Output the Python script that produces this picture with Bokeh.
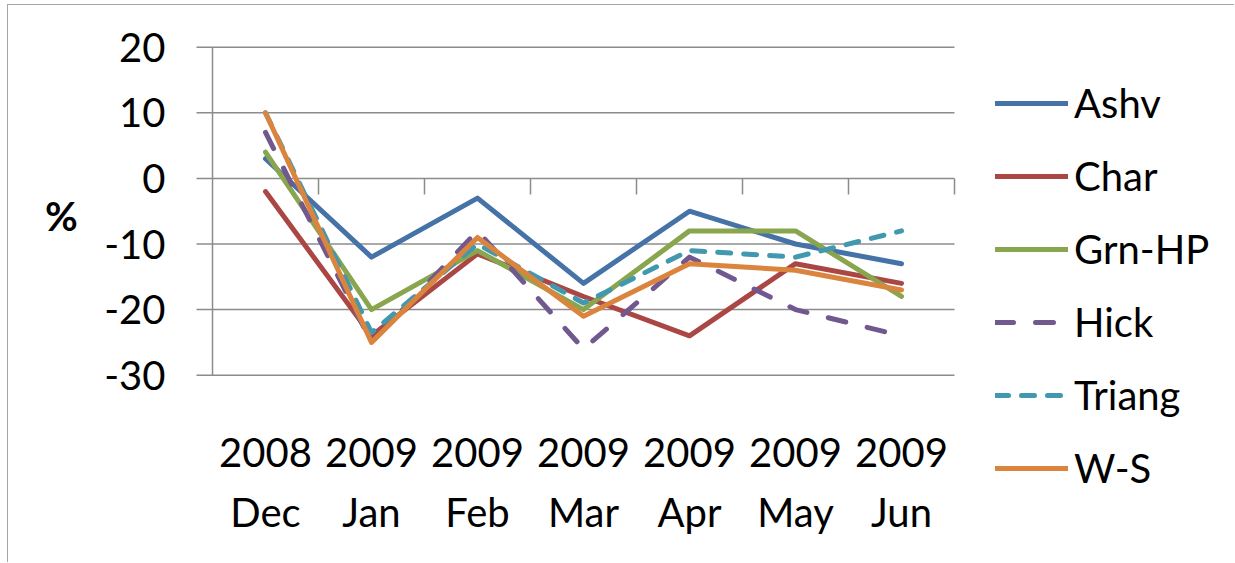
from bokeh.plotting import figure
from bokeh.models import Range1d
from bokeh.core.properties import value
from bokeh.embed import file_html
from bokeh.resources import INLINE

years = ["2008", "2009", "2009", "2009", "2009", "2009", "2009"]
months = ["Dec", "Jan", "Feb", "Mar", "Apr", "May", "Jun"]
y_ticks = [-30, -20, -10, 0, 10, 20]
y_tick_labels = ["-30", "-20", "-10", "0", "10", "20"]
y_title = "%"

ashv = [3, -12, -3, -16, -5, -10, -13]
char = [-2, -24, -11.5, -18, -24, -13, -16]
grn_hp = [4, -20, -11, -20, -8, -8, -18]
hick = [7, -25, -8, -26, -12, -20, -24]
triang = [10, -23.5, -10, -19, -11, -12, -8]
w_s = [10, -25, -9, -21, -13, -14, -17]

series_names = ["Ashv", "Char", "Grn-HP", "Hick", "Triang", "W-S"]
series_vals = [ashv, char, grn_hp, hick, triang, w_s]
colors = ["#4572A7", "#AA4643", "#89A54E", "#71588F", "#4198AF", "#DB843D"]
dashes = ["solid", "solid", "solid", "18 22", "13 13", "solid"]

FONT = "Lato"
GRID = "#8c8c8c"

# ---- layout in pixels (canvas coordinates) ----
W, H = 1227, 558
PLOT_LEFT = 204.0        # x of the value axis
PLOT_TOP = 41.7          # y of the top gridline
PX_X = 106.0             # pixels per category
PX_Y = 6.56              # pixels per percentage point

n = len(months)
x_start = -0.5 - PLOT_LEFT / PX_X
x_end = x_start + W / PX_X
y_end = y_ticks[-1] + PLOT_TOP / PX_Y
y_start = y_end - H / PX_Y

p = figure(width=W, height=H, output_backend="svg", toolbar_location=None,
           x_range=Range1d(x_start, x_end), y_range=Range1d(y_start, y_end),
           min_border=0, x_axis_type=None, y_axis_type=None)
p.outline_line_color = None
p.background_fill_color = "white"
p.border_fill_color = "white"
p.grid.visible = False
p.styles = {"margin-left": "7px", "margin-top": "4px",
            "border-left": "1px solid #a6a6a6", "border-top": "1px solid #a6a6a6"}

x_cat_lo, x_cat_hi = -0.5, n - 0.5
tick_out_x = 16 / PX_X
tick_out_y = 16 / PX_Y
k = len(y_ticks)

# gridlines (extending left as outer tick marks)
p.segment(x0=[x_cat_lo - tick_out_x] * k, y0=y_ticks, x1=[x_cat_hi] * k,
          y1=y_ticks, line_color=GRID, line_width=1.5)
# value axis line
p.segment(x0=[x_cat_lo], y0=[y_ticks[0]], x1=[x_cat_lo], y1=[y_ticks[-1]],
          line_color=GRID, line_width=1.5)
# category-boundary tick marks hanging from the zero line
bounds = [i + 0.5 for i in range(n)]
p.segment(x0=bounds, y0=[0] * n, x1=bounds, y1=[-tick_out_y] * n,
          line_color=GRID, line_width=1.5)

for name, vals, c, d in zip(series_names, series_vals, colors, dashes):
    p.line(list(range(n)), vals, line_color=c, line_width=5, line_dash=d,
           line_cap="round", line_join="round", legend_label=name)

# value tick labels
p.text(x=[x_cat_lo] * k, y=y_ticks, text=y_tick_labels, x_offset=-47,
       y_offset=0, text_align="right", text_baseline="middle",
       text_font=value(FONT), text_font_size="40px", text_color="black")
# axis title
p.text(x=[x_cat_lo], y=[0], text=[y_title], x_offset=-151, y_offset=38,
       text_align="center", text_baseline="middle", text_font=value(FONT),
       text_font_size="40px", text_font_style="bold", text_color="black")
# category labels (two rows)
xs = list(range(n))
p.text(x=xs, y=[y_ticks[0]] * n, text=years, y_offset=77,
       text_align="center", text_baseline="middle", text_font=value(FONT),
       text_font_size="40px", text_color="black")
p.text(x=xs, y=[y_ticks[0]] * n, text=months, y_offset=137,
       text_align="center", text_baseline="middle", text_font=value(FONT),
       text_font_size="40px", text_color="black")

lg = p.legend[0]
lg.location = (987, 71)
lg.padding = 0
lg.margin = 0
lg.border_line_color = None
lg.background_fill_alpha = 0
lg.glyph_width = 73
lg.glyph_height = 40
lg.label_height = 40
lg.spacing = 25
lg.label_standoff = 6
lg.label_text_font = FONT
lg.label_text_font_size = "40px"
lg.label_text_color = "black"

open("out.html", "w").write(file_html(p, INLINE))
